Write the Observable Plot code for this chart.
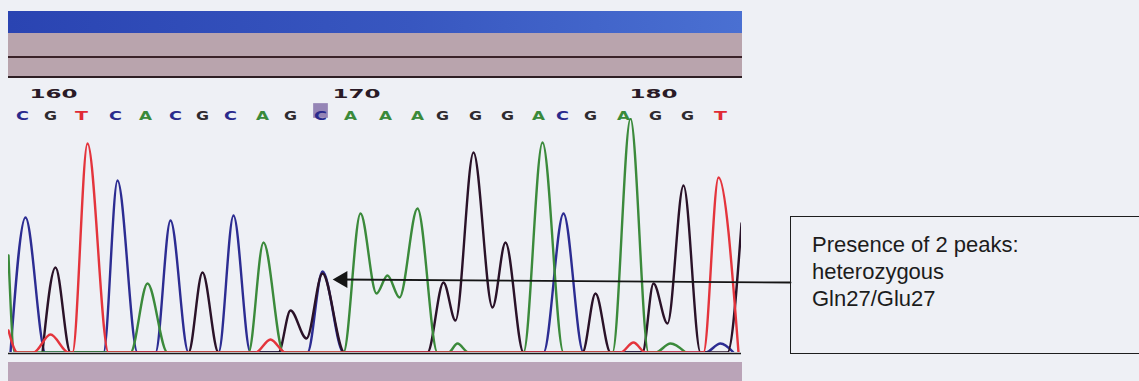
<!DOCTYPE html>
<html>
<head>
<meta charset="utf-8">
<script src="https://cdn.jsdelivr.net/npm/d3@7"></script>
<script src="https://cdn.jsdelivr.net/npm/@observablehq/plot@0.6"></script>
<style>
  html, body { margin: 0; padding: 0; background: #eef0f5; overflow: hidden; }
  #wrap { position: relative; width: 1139px; height: 381px; background: #eef0f5; }
  .band { position: absolute; left: 8px; width: 734px; }
  #blue { top: 11px; height: 22px; background: linear-gradient(to right, #2a44b2, #3857c0 55%, #4a70d2); }
  #mauve { top: 33px; height: 45px; background: #b9a4ad; border-bottom: 2px solid #2e1f24; box-sizing: border-box; }
  #mline { top: 56px; height: 2px; background: #3a2228; }
  #bottom { top: 362px; height: 19px; background: #baa4b8; }
  #chart { position: absolute; left: 0; top: 0; }
  #box { position: absolute; left: 790px; top: 216px; width: 360px; height: 138px;
         border: 1.5px solid #1e1e1e; border-right: none; box-sizing: border-box;
         font-family: "Liberation Sans", Arial, sans-serif; font-size: 22px; line-height: 27px;
         color: #1c1c1c; padding: 14px 0 0 21px; }
</style>
</head>
<body>
<div id="wrap">
  <div class="band" id="blue"></div>
  <div class="band" id="mauve"></div>
  <div class="band" id="mline"></div>
  <div class="band" id="bottom"></div>
  <div id="chart"></div>
  <div id="box">Presence of 2 peaks:<br>heterozygous<br>Gln27/Glu27</div>
</div>
<script>
// Base calls (scan positions) and sequence
const sequence = ["C","G","T","C","A","C","G","C","A","G","C","A","A","A","G","G","G","A","C","G","A","G","G","T"];
const basePos  = [14,42,73,107,137,167,194,222,254,282,312,342,377,409,434,467,499,530,554,582,615,647,679,712];
const highlightIndex = 10;

// Position ruler labels
const tickLabels = ["160","170","180"];
const tickPos    = [45, 348, 645];

// Trace key points per dye channel: [scan, signal]
const traceC = [[2,0],[17,135],[37,0],[95,0],[109,172],[129,0],[147,0],[162,132],[180,0],
  [210,0],[225,137],[242,0],[299,0],[314,81],[335,0],[535,0],[555,139],[575,0],
  [697,0],[712,9],[725,0]];
const traceG = [[34,0],[47,85],[62,0],[180,0],[194,80],[210,0],
  [270,0],[282,42],[298,14],[314,79],[336,0],
  [419,0],[435,70],[447,32],[465,200],[484,45],[497,110],[515,0],
  [574,0],[587,59],[602,0],[634,0],[645,69],[659,29],[675,167],[692,0],
  [719,0],[733,129]];
const traceT = [[0,22],[9,0],[25,0],[42,18],[60,0],[64,0],[79,209],[100,0],
  [247,0],[262,13],[277,0],[612,0],[625,10],[637,0],[695,0],[710,175],[730,0]];
const traceA = [[0,97],[6,0],[122,0],[139,69],[159,0],[240,0],[255,110],[275,0],
  [335,0],[352,139],[368,59],[379,77],[391,55],[409,144],[429,0],
  [440,0],[449,9],[460,0],[515,0],[534,210],[555,0],[604,0],[622,234],[640,0],
  [647,0],[662,9],[677,0]];

// Annotation arrow (scan, signal)
const arrowFrom = [782, 70];
const arrowTo   = [330, 73];
const arrowHead = [334, 73];

const colors = { A: "#3b8a3b", C: "#2c2c92", G: "#2a1228", T: "#e4343c" };
const letterColors = { A: "#3a8a3a", C: "#2a2a8c", G: "#2e2a2e", T: "#e02a35" };

const X = d => d[0], Y = d => d[1];
const traceMark = (data, color) => Plot.line(data, {x: X, y: Y, stroke: color, strokeWidth: 2.4, curve: "monotone-x", clip: true});

const letterMarks = Object.keys(letterColors).map(b =>
  Plot.text(sequence.map((s, i) => ({s, x: basePos[i]})).filter(d => d.s === b), {
    x: "x", text: "s", frameAnchor: "top", dy: -8, fill: letterColors[b],
    fontFamily: "DejaVu Sans", fontWeight: "bold", fontSize: 13
  })
);

const chart = Plot.plot({
  width: 1139, height: 381,
  marginLeft: 8, marginRight: 398, marginTop: 118, marginBottom: 29,
  x: {domain: [0, 733], axis: null},
  y: {domain: [0, 234], axis: null},
  style: {background: "transparent", overflow: "visible"},
  marks: [
    traceMark(traceC, colors.C),
    traceMark(traceG, colors.G),
    traceMark(traceA, colors.A),
    traceMark(traceT, colors.T),
    Plot.ruleY([0], {stroke: "#1a1a1a", strokeWidth: 1.5, dy: 1}),
    Plot.dot([basePos[highlightIndex]], {x: d => d, frameAnchor: "top", dy: -8, symbol: "square", r: 8.3, fill: "#9585b6"}),
    ...letterMarks,
    Plot.text(tickPos, {x: d => d, text: (d, i) => tickLabels[i], frameAnchor: "top", dy: -30,
      fill: "#2a1a26", fontFamily: "DejaVu Sans", fontWeight: "bold", fontSize: 13}),
    Plot.line([arrowFrom, arrowTo], {x: X, y: Y, stroke: "#151515", strokeWidth: 1.8}),
    Plot.dot([arrowHead], {x: X, y: Y, symbol: "triangle", r: 6.3, rotate: -90, fill: "#151515", stroke: "none"})
  ]
});
// Widen the heavy sequencer glyphs
chart.querySelectorAll("text").forEach(t => {
  const s = t.textContent;
  if (/^[ACGT]$/.test(s)) { t.setAttribute("textLength", 13); t.setAttribute("lengthAdjust", "spacingAndGlyphs"); }
  else if (/^\d+$/.test(s)) { t.setAttribute("textLength", 48); t.setAttribute("lengthAdjust", "spacingAndGlyphs"); }
});
document.getElementById("chart").appendChild(chart);
</script>
</body>
</html>
